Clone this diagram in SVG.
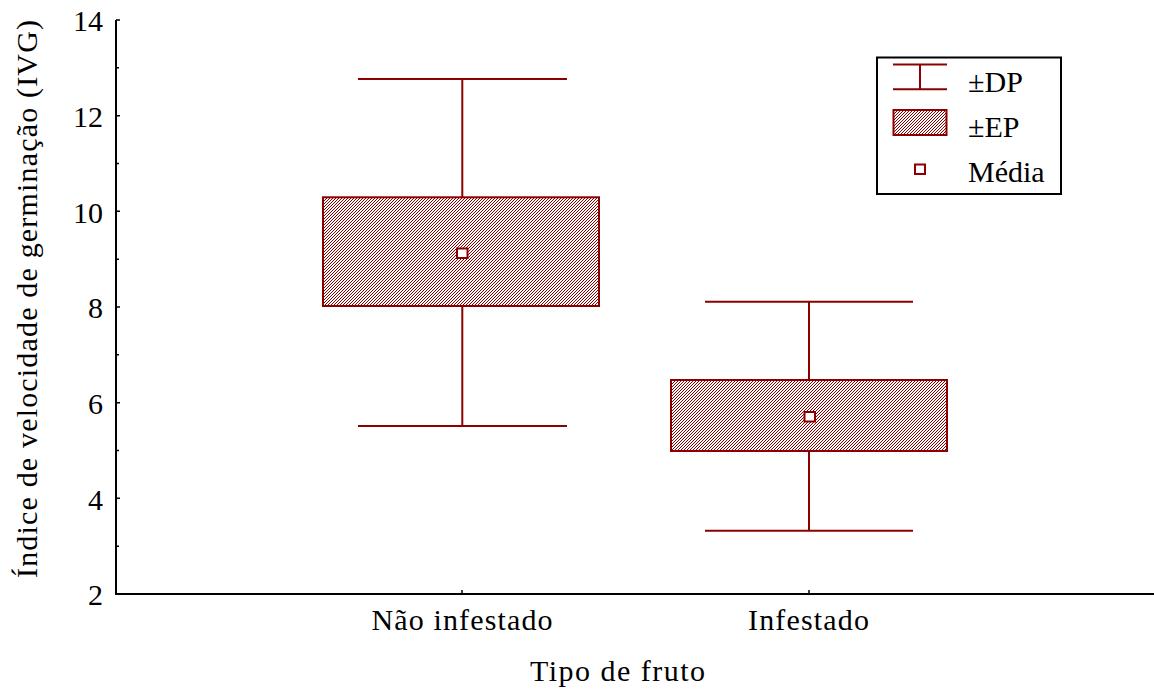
<svg xmlns="http://www.w3.org/2000/svg" width="1154" height="690" viewBox="0 0 1154 690">
<defs>
<pattern id="hatch" x="0" y="0" width="3" height="3" patternUnits="userSpaceOnUse">
<rect x="2" y="0" width="1" height="1" fill="#8b0000"/>
<rect x="1" y="1" width="1" height="1" fill="#8b0000"/>
<rect x="0" y="2" width="1" height="1" fill="#8b0000"/>
</pattern>
<style>
.t{font-family:'Liberation Serif','Times New Roman',serif;font-size:30px;fill:#000}
.ax{stroke:#000;stroke-width:2;fill:none}
.tk{stroke:#000;stroke-width:1.5;fill:none}
.w{stroke:#8b0000;stroke-width:2;fill:none}
.box{fill:url(#hatch);stroke:#8b0000;stroke-width:2}
.mk{fill:#fff;stroke:#8b0000;stroke-width:2}
</style>
</defs>
<rect width="1154" height="690" fill="#fff"/>
<g id="axes">
<path class="ax" d="M116,20 V594 H1154"/>
<path class="tk" d="M116,20 H120 M116,115.7 H120 M116,211.3 H120 M116,307 H120 M116,402.7 H120 M116,498.3 H120 M116,67.8 H119 M116,163.5 H119 M116,259.2 H119 M116,354.8 H119 M116,450.5 H119 M116,546.2 H119 M462,594 V590 M809,594 V590"/>
<g class="t" text-anchor="end">
<text x="103" y="31">14</text>
<text x="103" y="127">12</text>
<text x="103" y="222.5">10</text>
<text x="103" y="318">8</text>
<text x="103" y="414">6</text>
<text x="103" y="509.5">4</text>
<text x="103" y="605">2</text>
</g>
<g class="t" text-anchor="middle">
<text x="462" y="630" textLength="181">Não infestado</text>
<text x="808.5" y="630" textLength="121">Infestado</text>
<text x="617.5" y="681" textLength="175">Tipo de fruto</text>
<text transform="translate(37,299) rotate(-90)" x="0" y="0" textLength="558">Índice de velocidade de germinação (IVG)</text>
</g>
</g>
<g id="connectors">
<path class="w" d="M358,79 H567 M462.3,79 V197 M462.3,306 V426 M358,426 H567"/>
<path class="w" d="M705,301.7 H913 M809,301.7 V380 M809,451 V530.7 M705,530.7 H913"/>
</g>
<g id="nao-infestado">
<rect class="box" x="323" y="197.3" width="276" height="108.7"/>
<rect class="mk" x="457" y="248.5" width="10.5" height="9.5"/>
</g>
<g id="infestado">
<rect class="box" x="671" y="380" width="276" height="71"/>
<rect class="mk" x="804.5" y="412" width="10.5" height="9.5"/>
</g>
<g id="legend">
<rect x="877" y="57.5" width="184" height="136.5" fill="#fff" stroke="#000" stroke-width="2"/>
<path class="w" d="M893,64.5 H947 M893,89.3 H947 M920,64.5 V89.3"/>
<rect class="box" x="893.5" y="110" width="53" height="25"/>
<rect class="mk" x="915" y="164.5" width="10" height="9.5"/>
<text class="t" x="968" y="91.5">±DP</text>
<text class="t" x="968" y="136.5">±EP</text>
<text class="t" x="968" y="181.5">Média</text>
</g>
</svg>
